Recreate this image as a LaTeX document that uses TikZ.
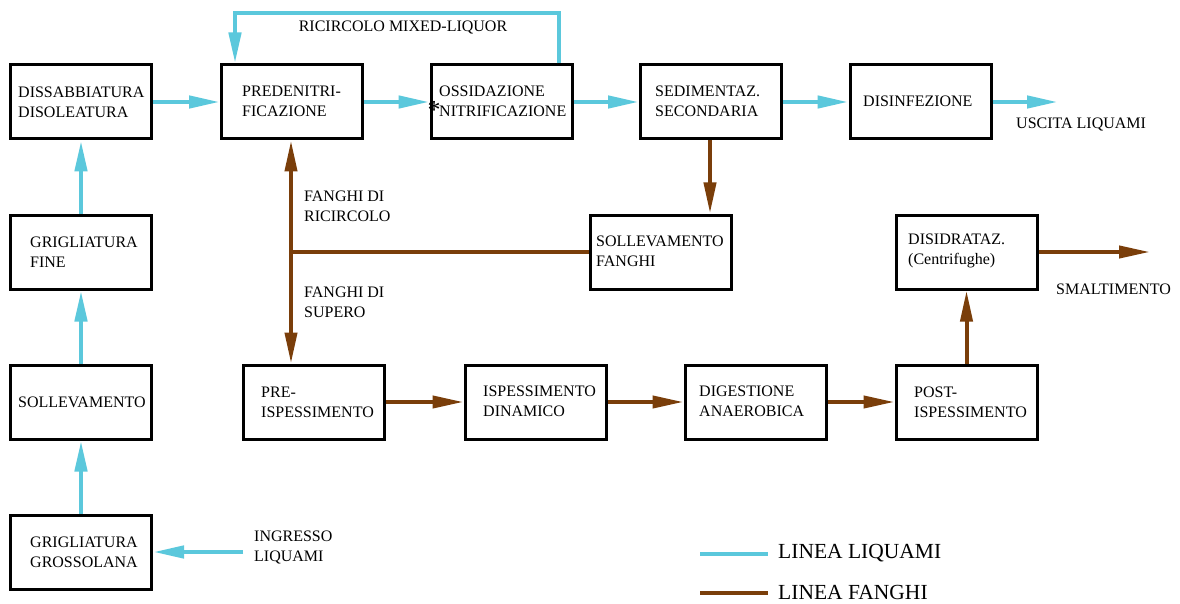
\documentclass[tikz,border=0pt]{standalone}
\usepackage{fontspec}
\setmainfont{Liberation Serif}
\usetikzlibrary{arrows.meta}
\definecolor{liqcol}{RGB}{91,200,220}
\definecolor{fancol}{RGB}{122,62,10}

\begin{document}
\begin{tikzpicture}[x=1pt,y=-1pt,
  unit/.style={draw=black,line width=3pt,minimum width=141pt,minimum height=74pt,inner sep=0pt,fill=white},
  lbl/.style={anchor=west,align=left,inner sep=0pt,font=\fontsize{16}{20}\selectfont},
  legtext/.style={anchor=west,inner sep=0pt,font=\fontsize{21.5}{24}\selectfont},
  liq/.style={draw=liqcol,line width=4.5pt},
  fan/.style={draw=fancol,line width=4pt},
  flow/.style={-{Triangle[length=31pt,width=12pt]}},
  bothflow/.style={{Triangle[length=31pt,width=12pt]}-{Triangle[length=31pt,width=12pt]}},
]
\useasboundingbox (0,0) rectangle (1180,604);
\fill[white] (0,0) rectangle (1180,604);

% ---- process units ----
\node[unit] (dis)   at (81,102)    {};
\node[unit] (pred)  at (292,102)   {};
\node[unit] (oss)   at (501.5,102) {};
\node[unit] (sed)   at (711,102)   {};
\node[unit] (disinf) at (920.5,102) {};
\node[unit] (grf)   at (81,252)    {};
\node[unit] (sol)   at (81,402)    {};
\node[unit] (grg)   at (81,552)    {};
\node[unit] (solf)  at (660.5,252) {};
\node[unit] (disid) at (966.5,252) {};
\node[unit] (preisp) at (314,402)  {};
\node[unit] (ispd)  at (535.5,402) {};
\node[unit] (dig)   at (755.5,402) {};
\node[unit] (post)  at (966.5,402) {};

% ---- unit captions ----
\node[lbl] (disT)   at (18,102)  {DISSABBIATURA\\DISOLEATURA};
\node[lbl] (predT)  at (242,101) {PREDENITRI-\\FICAZIONE};
\node[lbl] (ossT)   at (439,101) {OSSIDAZIONE\\NITRIFICAZIONE};
\node[lbl] (sedT)   at (655,101) {SEDIMENTAZ.\\SECONDARIA};
\node[lbl] (disinfT) at (863,101) {DISINFEZIONE};
\node[lbl] (grfT)   at (30,252)  {GRIGLIATURA\\FINE};
\node[lbl] (solT)   at (18,402)  {SOLLEVAMENTO};
\node[lbl] (grgT)   at (30,552)  {GRIGLIATURA\\GROSSOLANA};
\node[lbl] (solfT)  at (596,251) {SOLLEVAMENTO\\FANGHI};
\node[lbl] (disidT) at (908,251) {DISIDRATAZ.\\(Centrifughe)};
\node[lbl] (preispT) at (261,402) {PRE-\\ISPESSIMENTO};
\node[lbl] (ispdT)  at (483,401) {ISPESSIMENTO\\DINAMICO};
\node[lbl] (digT)   at (699,401) {DIGESTIONE\\ANAEROBICA};
\node[lbl] (postT)  at (914,402) {POST-\\ISPESSIMENTO};
\node[inner sep=0pt,font=\fontsize{26}{26}\selectfont] (ast) at (434,110) {*};

% ---- free labels ----
\node[lbl,anchor=center] (ricT) at (403,28) {RICIRCOLO MIXED-LIQUOR};
\node[lbl] (uscT)  at (1016,125) {USCITA LIQUAMI};
\node[lbl] (smalT) at (1056,289) {SMALTIMENTO};
\node[lbl] (fricT) at (304,206)  {FANGHI DI\\RICIRCOLO};
\node[lbl] (fsupT) at (304,302)  {FANGHI DI\\SUPERO};
\node[lbl] (ingrT) at (254,547)  {INGRESSO\\LIQUAMI};

% ---- helper points ----
\coordinate (uscEnd)  at (1058,102);
\coordinate (smalEnd) at (1150,252);
\coordinate (ingr)    at (243,552);
\coordinate (rcR)     at (559,13);
\coordinate (rcL)     at (235,13);
\coordinate (j)       at (291,252);
\coordinate (sx)      at (710,0);

% ---- wastewater line ----
\draw[liq,flow] (ingr) -- (grg.east |- ingr);
\draw[liq,flow] (grg.north) -- (sol.south);
\draw[liq,flow] (sol.north) -- (grf.south);
\draw[liq,flow] (grf.north) -- (dis.south);
\draw[liq,flow] (dis.east) -- (pred.west);
\draw[liq,flow] (pred.east) -- (oss.west);
\draw[liq,flow] (oss.east) -- (sed.west);
\draw[liq,flow] (sed.east) -- (disinf.west);
\draw[liq,flow] (disinf.east) -- (uscEnd);
\draw[liq,flow] (oss.north -| rcR) -- (rcR) -- (rcL) -- (pred.north -| rcL);

% ---- sludge line ----
\draw[fan,flow] (sed.south -| sx) -- (solf.north -| sx);
\draw[fan] (solf.west |- j) -- (j);
\draw[fan,bothflow] (pred.south -| j) -- (preisp.north -| j);
\draw[fan,flow] (preisp.east) -- (ispd.west);
\draw[fan,flow] (ispd.east) -- (dig.west);
\draw[fan,flow] (dig.east) -- (post.west);
\draw[fan,flow] (post.north) -- (disid.south);
\draw[fan,flow] (disid.east) -- (smalEnd);

% ---- legend ----
\coordinate (lq1) at (700,554);
\coordinate (lq2) at (768,554);
\coordinate (lf1) at (700,593);
\coordinate (lf2) at (768,593);
\draw[liq] (lq1) -- (lq2);
\draw[fan] (lf1) -- (lf2);
\node[legtext] (legLiq) at (778,553) {LINEA LIQUAMI};
\node[legtext] (legFan) at (778,592) {LINEA FANGHI};
\end{tikzpicture}
\end{document}
